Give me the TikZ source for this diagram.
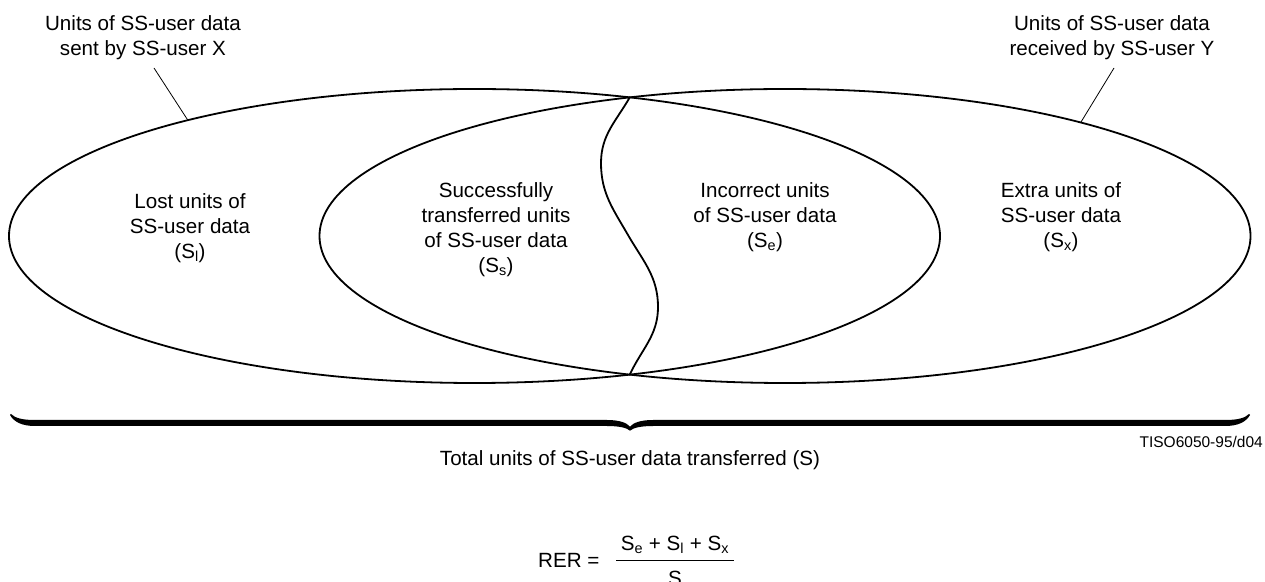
\documentclass[tikz,border=0pt]{standalone}
\usepackage{fontspec}
\setmainfont{Liberation Sans}
\usetikzlibrary{shapes.geometric}

\begin{document}
\begin{tikzpicture}[x=1pt,y=1pt,
	set/.style={draw, ellipse, line width=1.8pt, minimum width=931pt, minimum height=294pt, inner sep=0pt, outer sep=0pt},
	txt/.style={align=center, font=\fontsize{20.6pt}{25pt}\selectfont, inner sep=0pt},
	leader/.style={line width=0.8pt}]
\useasboundingbox (0,0) rectangle (1265,581);

% the two sets
\node[set] (sent) at (474.5,345) {};
\node[set] (recv) at (785,345) {};
\coordinate (top) at (629.75,483.6);
\coordinate (bot) at (629.75,206.4);
\draw[line width=1.8pt] (top) to[out=-120,in=90] (601,418) to[out=-90,in=120] (628,346)
	to[out=-60,in=90] (658,274) to[out=-90,in=65] (bot);

% labels of the sets
\node[txt] (xlab) at (143,543.8) {Units of SS-user data\\sent by SS-user X};
\node[txt] (ylab) at (1112,543.8) {Units of SS-user data\\received by SS-user Y};
\coordinate (xend) at (154,513);
\coordinate (yend) at (1114,513);
\draw[leader] (xend) -- (sent.158);
\draw[leader] (yend) -- (recv.21);

\node[txt] (lost) at (190,353.3) {Lost units of\\SS-user data\\(S\textsubscript{l})};
\node[txt] (succ) at (496,351.8) {Successfully\\transferred units\\of SS-user data\\(S\textsubscript{s})};
\node[txt] (inc) at (765,364.3) {Incorrect units\\of SS-user data\\(S\textsubscript{e})};
\node[txt] (extra) at (1061,364.3) {Extra units of\\SS-user data\\(S\textsubscript{x})};

% brace
\fill (10,166) .. controls (14,159) and (22,155) .. (35,155) -- (607,155)
	.. controls (620,155) and (627,153) .. (630,150.3)
	.. controls (633,153) and (640,155) .. (653,155) -- (1225,155)
	.. controls (1238,155) and (1246,159) .. (1250,166) -- (1249,167)
	.. controls (1245,163) and (1238,161) .. (1225,161) -- (653,161)
	.. controls (640,161) and (633,158) .. (630,154.3)
	.. controls (627,158) and (620,161) .. (607,161) -- (35,161)
	.. controls (22,161) and (15,163) .. (11,167) -- cycle;

\node[txt] (total) at (630,121.3) {Total units of SS-user data transferred (S)};
\node[txt, font=\fontsize{15.5pt}{18pt}\selectfont, anchor=east] (tiso) at (1263,139.5) {TISO6050-95/d04};

% formula
\node[txt, anchor=base west] (rer) at (538,14) {RER =};
\node[txt, anchor=base, inner xsep=4.5pt] (num) at (675,31) {S\textsubscript{e} + S\textsubscript{l} + S\textsubscript{x}};
\node[txt, anchor=base] (den) at (675,-4) {S};
\draw[line width=1pt] ([yshift=-10pt]num.base west) -- ([yshift=-10pt]num.base east);
\end{tikzpicture}
\end{document}
